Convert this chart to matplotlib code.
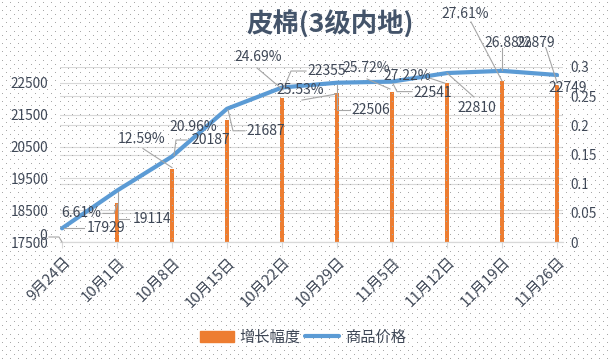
import numpy as np
import matplotlib
matplotlib.use('Agg')
import matplotlib.pyplot as plt
from matplotlib.patches import Patch
from matplotlib.lines import Line2D
from matplotlib.transforms import ScaledTranslation

plt.rcParams['font.family'] = ['Noto Sans CJK SC', 'DejaVu Sans']

# ---------------- data ----------------
title = '皮棉(3级内地)'
dates = ['9月24日', '10月1日', '10月8日', '10月15日', '10月22日',
         '10月29日', '11月5日', '11月12日', '11月19日', '11月26日']
price = [17929, 19114, 20187, 21687, 22355, 22506, 22541, 22810, 22879, 22749]
growth = [0, 0.0661, 0.1259, 0.2096, 0.2469, 0.2553, 0.2572, 0.2722, 0.2761, 0.2688]
growth_labels = ['0', '6.61%', '12.59%', '20.96%', '24.69%', '25.53%',
                 '25.72%', '27.22%', '27.61%', '26.88%']
price_labels = [str(p) for p in price]
left_ticks = [17500, 18500, 19500, 20500, 21500, 22500]
right_ticks = [0, 0.05, 0.1, 0.15, 0.2, 0.25, 0.3]
right_tick_labels = ['0', '0.05', '0.1', '0.15', '0.2', '0.25', '0.3']
legend_labels = ['增长幅度', '商品价格']

# ---------------- layout / style ----------------
W, H = 610, 363
ORANGE = '#ED7D31'
BLUE = '#5B9BD5'
TXT = '#3E4756'
GRID = '#D9D9D9'
LEAD = '#A6A6A6'

# label offsets (pixels, y downward) relative to anchor point, plus leader paths
growth_off = [(-19, -6), (-36, 10), (-30, -30), (-34, 7), (-24, -41),
              (-37, -3), (-26, -24), (-40, -7), (-37, -67), (-49, -42)]
growth_lead = [[(-13, -5), (-3, -5), (0, 0)],
               [(-14, 10), (-3, 10), (0, 1)],
               [(-29, -20), (0, -1)],
               [],
               [(-25, -30), (1, -8)],
               [(-35, 7), (-1, 1)],
               [(-25, -13), (-2, -3)],
               [(-17, -5), (-2, 0)],
               [(-31, -59), (0, 0)],
               [(-11, -37), (0, -3)]]
price_off = [(44, 0), (35, 28), (39, -16.5), (39, 22), (45, -16.5),
             (34, 27), (41, 11), (30, 35), (34, -28), (11, 13)]
price_lead = [[(2, 0), (22, 0)],
              [(1, 1), (1, 28), (12, 28)],
              [(2, -1), (4, -16.5), (15, -16.5)],
              [(1, 1), (6, 22), (18, 22)],
              [(2, 0), (9, -16.5), (24, -16.5)],
              [(0, 2), (0, 27), (13, 27)],
              [(1, 2), (5, 10), (20, 10)],
              [(0, 0), (27, 24)],
              [(0, -23), (0, -1)],
              []]

fig = plt.figure(figsize=(W / 100, H / 100), dpi=100)
fig.patch.set_facecolor('white')

# dotted background pattern
img = np.zeros((H, W, 4))
for r, yy in enumerate(np.arange(2.0, H, 4.15)):
    off = 0 if r % 2 == 0 else 4.15
    for xx in np.arange(2.0 + off, W, 8.3):
        img[int(yy), int(xx)] = [0.66, 0.66, 0.66, 1.0]
fig.figimage(img, 0, 0, origin='upper', zorder=0)

ax_l, ax_r, ax_t, ax_b = 60, 563, 67, 242
ax = fig.add_axes([ax_l / W, (H - ax_b) / H, (ax_r - ax_l) / W, (ax_b - ax_t) / H])
ax2 = ax.twinx()
ax.set_zorder(ax2.get_zorder() + 1)
ax.patch.set_visible(False)
ax2.patch.set_visible(False)

x = np.arange(len(dates))
step = 55.0
xlim = (-(62 - ax_l) / step, (ax_r - 62) / step)

ax2.bar(x, growth, width=4 / step, color=ORANGE, zorder=2, linewidth=0)
ax.plot(x, price, color=BLUE, lw=3, solid_joinstyle='round',
        solid_capstyle='round', zorder=3)

ax.set_xlim(*xlim)
ax2.set_xlim(*xlim)
ax.set_ylim(17500, 23000)
ax2.set_ylim(0, 0.3)

ax.set_yticks(left_ticks)
ax.set_yticklabels([str(v) for v in left_ticks])
ax2.set_yticks(right_ticks)
ax2.set_yticklabels(right_tick_labels)
ax2.set_yticks([(v - 17500) / 5500 * 0.3 for v in left_ticks], minor=True)
ax2.grid(True, which='both', axis='y', color=GRID, lw=0.8)
ax2.set_axisbelow(True)

ax.tick_params(axis='y', length=0, pad=8.5, labelsize=9.8, labelcolor=TXT)
ax2.tick_params(axis='y', which='both', length=0, pad=5, labelsize=9.8, labelcolor=TXT)

ax.set_xticks(x)
ax.set_xticklabels(dates, rotation=45, ha='right', va='center',
                   rotation_mode='anchor', fontsize=10.8, color=TXT)
ax.tick_params(axis='x', length=4, width=0.8, color=GRID, pad=9)
for lab in ax.get_xticklabels():
    lab.set_transform(lab.get_transform() + ScaledTranslation(6 / 100, 0, fig.dpi_scale_trans))

for a in (ax, ax2):
    for s in ('top', 'left', 'right'):
        a.spines[s].set_visible(False)
ax2.spines['bottom'].set_visible(False)
ax.spines['bottom'].set_color(GRID)
ax.spines['bottom'].set_linewidth(0.9)


def to_px(axis, xv, yv):
    X, Y = axis.transData.transform((xv, yv))
    return X, H - Y


def put_label(axis, xv, yv, s, off, lead):
    X, Y = to_px(axis, xv, yv)
    fig.text((X + off[0]) / W, 1 - (Y + off[1]) / H, s, ha='center', va='center',
             fontsize=10, color=TXT, zorder=5)
    if lead:
        xs = [(X + p[0]) / W for p in lead]
        ys = [1 - (Y + p[1]) / H for p in lead]
        fig.add_artist(Line2D(xs, ys, transform=fig.transFigure, color=LEAD,
                              lw=0.8, zorder=4))


for i in range(len(dates)):
    put_label(ax2, x[i], growth[i], growth_labels[i], growth_off[i], growth_lead[i])
    put_label(ax, x[i], price[i], price_labels[i], price_off[i], price_lead[i])

fig.text(330 / W, 1 - 25 / H, title, ha='center', va='center', fontsize=19,
         fontweight='bold', color='#44546A')

handles = [Patch(facecolor=ORANGE, edgecolor=ORANGE),
           Line2D([], [], color=BLUE, lw=3, solid_capstyle='round')]
fig.legend(handles=handles, labels=legend_labels, loc='center',
           bbox_to_anchor=(303 / W, 1 - 337 / H), ncol=2, frameon=False,
           fontsize=11, handlelength=2.2, handletextpad=0.4, columnspacing=0.3,
           labelcolor=TXT)

fig.savefig('out.png', dpi=100, facecolor='white')
